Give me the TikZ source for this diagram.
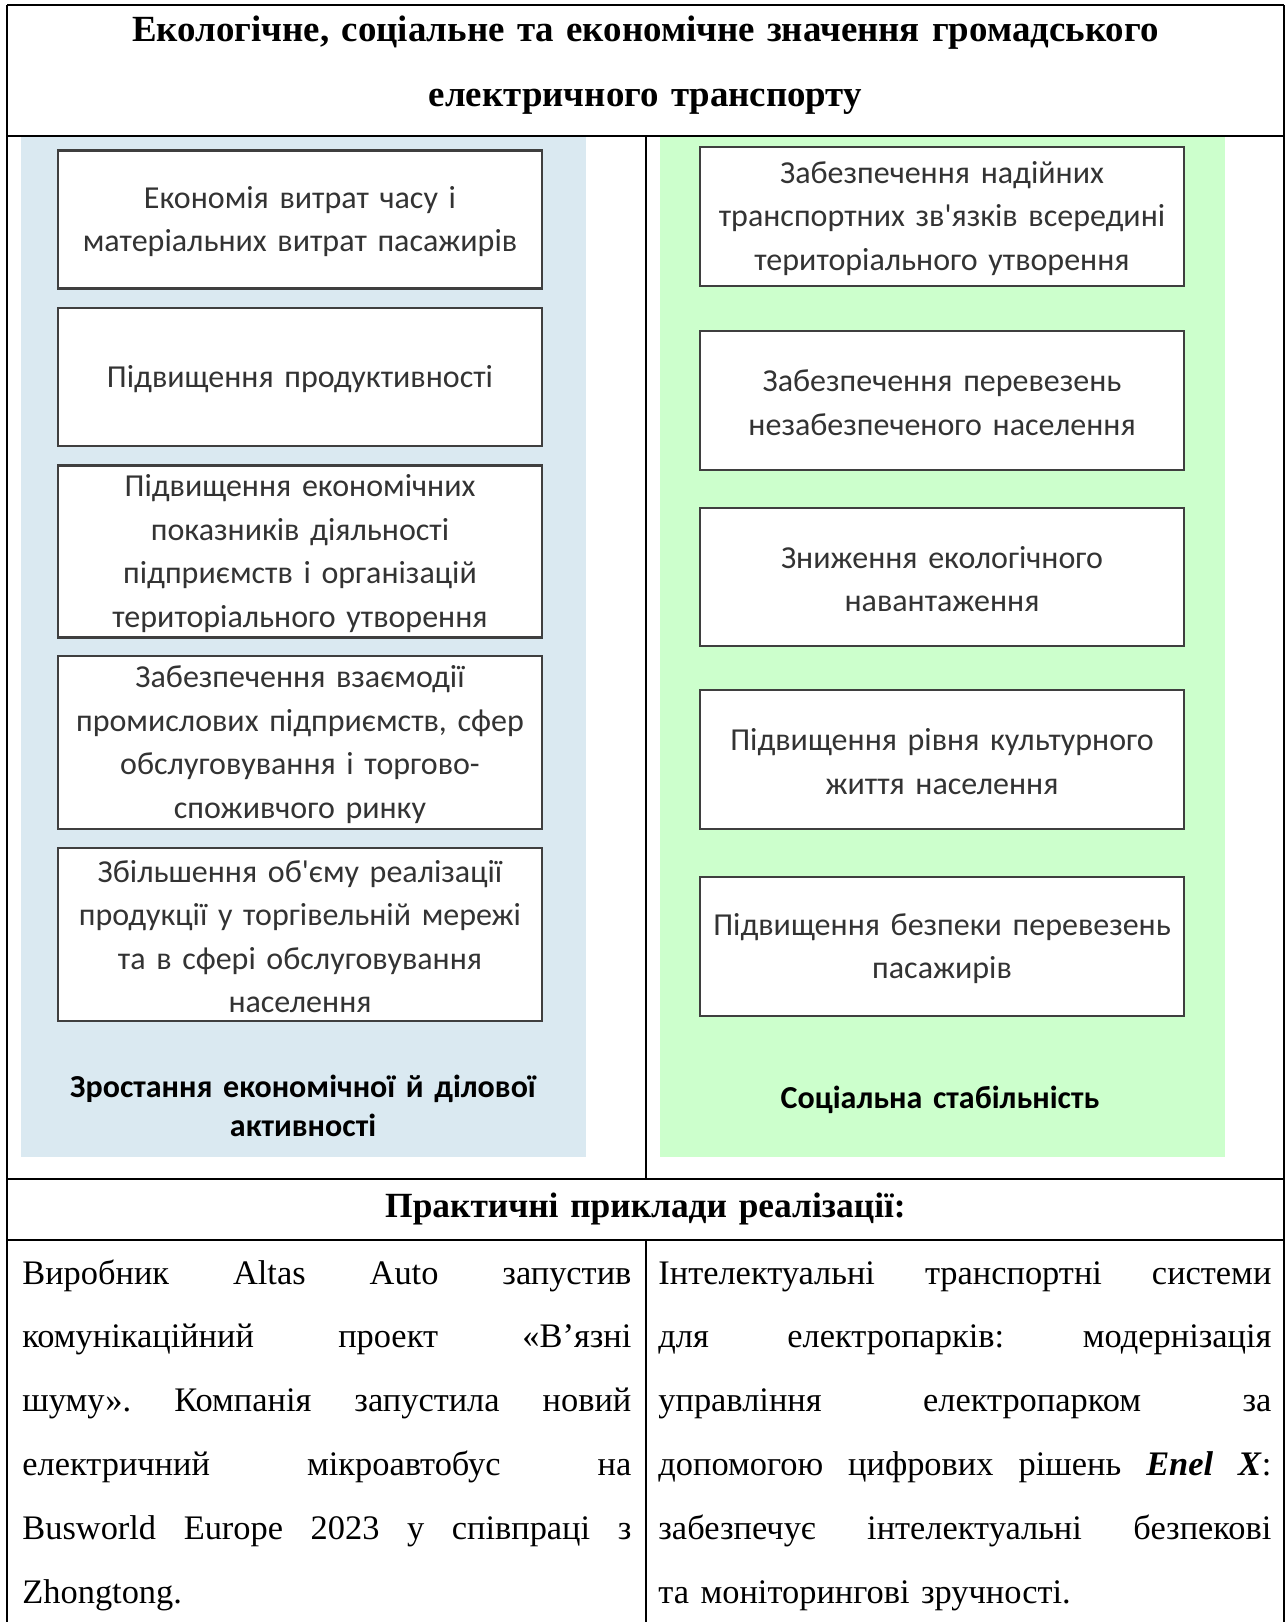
\documentclass[tikz,border=0pt]{standalone}
\usepackage{fontspec}
\setmainfont{Liberation Serif}
\newfontfamily\boxfont{Carlito}
\setlength{\parindent}{0pt}
\usepackage{xcolor}

\definecolor{econblue}{HTML}{DAE9F1}
\definecolor{socgreen}{HTML}{CCFFCC}
\definecolor{boxedge}{HTML}{3F3F3F}
\definecolor{boxtext}{HTML}{333333}

% one stretched line of a justified paragraph
\newcommand{\fullline}[2][304.5pt]{\hbox to #1{\spaceskip=0.25em plus 1fil\xspaceskip=0.25em plus 1fil\relax#2}}

\begin{document}
\begin{tikzpicture}[
    x = 0.5pt, y = -0.5pt,
    tableline/.style = {draw=black, line width=1pt},
    factorbox/.style = {rectangle, draw=boxedge, fill=white, line width=1.1pt, align=center, font=\boxfont\fontsize{16pt}{21.75pt}\selectfont, text=boxtext, minimum width=242pt, text width=238pt, inner sep=0pt, execute at begin node=\rule{0pt}{13pt}},
    grouplabel/.style = {align=center, font=\boxfont\bfseries\fontsize{16pt}{19.5pt}\selectfont, text=black, text width=270pt, inner sep=0pt},
    headtext/.style = {align=center, font=\bfseries\fontsize{18.45pt}{32.75pt}\selectfont, text width=620pt, inner sep=0pt, anchor=base},
    bodytext/.style = {font=\fontsize{17.2pt}{31.9pt}\selectfont, text width=304.5pt, inner sep=0pt, anchor=base west}
]
\useasboundingbox (0,0) rectangle (1286,1622);

% Panels
\fill [econblue] (21,136.5) rectangle (586,1157);
\fill [socgreen] (660,136.5) rectangle (1225,1157);

% Table
\draw [tableline] (7,5) -- (1284,5);
\draw [tableline] (7,5) -- (7,1622);
\draw [tableline] (1284,5) -- (1284,1622);
\draw [tableline] (7,135.5) -- (1284,135.5);
\draw [tableline] (646,135.5) -- (646,1179);
\draw [tableline] (7,1179) -- (1284,1179);
\draw [tableline] (7,1240) -- (1284,1240);
\draw [tableline] (646,1240) -- (646,1622);

% Header
\node (title) [headtext] at (645.5, 41) {Екологічне, соціальне та економічне значення громадського\\електричного транспорту};

% Column 1
\node (e1) [factorbox, minimum height=69pt] at (300, 219.5) {Економія витрат часу і\\матеріальних витрат пасажирів};
\node (e2) [factorbox, minimum height=69pt] at (300, 377) {Підвищення продуктивності};
\node (e3) [factorbox, minimum height=86pt] at (300, 551.5) {Підвищення економічних\\показників діяльності\\підприємств і організацій\\територіального утворення};
\node (e4) [factorbox, minimum height=86.5pt] at (300, 742.5) {Забезпечення взаємодії\\промислових підприємств, сфер\\обслуговування і торгово-\\споживчого ринку};
\node (e5) [factorbox, minimum height=86.5pt] at (300, 934.5) {Збільшення об'єму реалізації\\продукції у торгівельній мережі\\та в сфері обслуговування\\населення};
\node (econlabel) [grouplabel] at (303, 1105.5) {Зростання економічної й ділової\\активності};

% Column 2
\node (s1) [factorbox, minimum height=69.5pt] at (942, 216.5) {Забезпечення надійних\\транспортних зв'язків всередині\\територіального утворення};
\node (s2) [factorbox, minimum height=69.5pt] at (942, 400.5) {Забезпечення перевезень\\незабезпеченого населення};
\node (s3) [factorbox, minimum height=69pt] at (942, 577) {Зниження екологічного\\навантаження};
\node (s4) [factorbox, minimum height=69.5pt] at (942, 759.5) {Підвищення рівня культурного\\життя населення};
\node (s5) [factorbox, minimum height=69.5pt] at (942, 946.5) {Підвищення безпеки перевезень\\пасажирів};
\node (soclabel) [grouplabel] at (940, 1100) {Соціальна стабільність};

% Examples
\node (examples) [headtext, font=\bfseries\fontsize{17.7pt}{32pt}\selectfont] at (645.5, 1217) {Практичні приклади реалізації:};
\node (altas) [bodytext] at (22, 1284) {\fullline{Виробник Altas Auto запустив}
\fullline{комунікаційний проект «В’язні}
\fullline{шуму». Компанія запустила новий}
\fullline{електричний мікроавтобус на}
\fullline{Busworld Europe 2023 у співпраці з}
\hbox{Zhongtong.}};
\node (enel) [bodytext, text width=306.5pt] at (658, 1284) {\fullline[306.5pt]{Інтелектуальні транспортні системи}
\fullline[306.5pt]{для електропарків: модернізація}
\fullline[306.5pt]{управління електропарком за}
\fullline[306.5pt]{допомогою цифрових рішень \textbf{\textit{Enel X}}:}
\fullline[306.5pt]{забезпечує інтелектуальні безпекові}
\hbox{та моніторингові зручності.}};

\end{tikzpicture}
\end{document}
